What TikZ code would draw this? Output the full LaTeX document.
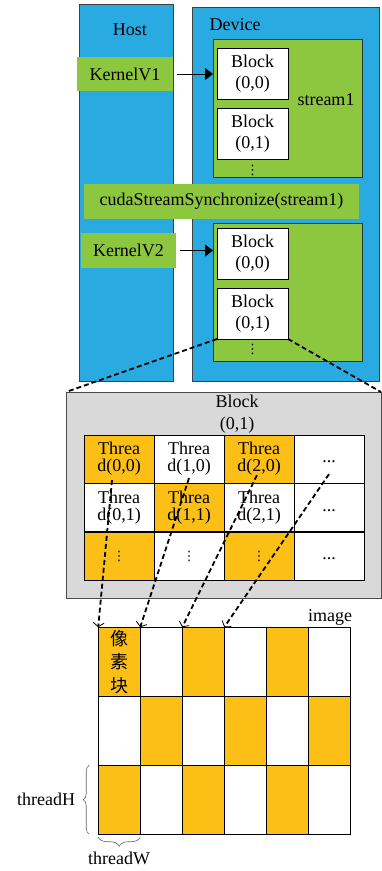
\documentclass[tikz,border=0pt]{standalone}
\usepackage{fontspec}
\setmainfont{Liberation Serif}
\newfontfamily\cjk{Noto Sans CJK SC}
\newfontfamily\symfont{DejaVu Sans}
\usetikzlibrary{arrows.meta,positioning,decorations.pathreplacing}

\definecolor{panelblue}{RGB}{41,171,226}
\definecolor{kgreen}{RGB}{141,198,63}
\definecolor{torange}{RGB}{251,191,22}
\definecolor{bgray}{RGB}{217,217,217}

\newcommand{\vdts}{{\symfont\fontsize{13}{13}\selectfont ⋮}}

\begin{document}
\begin{tikzpicture}
		[x=1pt, y=-1pt, >={Triangle[length=8pt,width=12pt]},
		 every node/.style = {font=\fontsize{18}{21.5}\selectfont, inner sep=0pt, outer sep=0pt},
		 panel/.style  = {draw=black!75, fill=panelblue, line width=0.6pt},
		 sbox/.style   = {draw=black!80, fill=kgreen, line width=0.6pt,
		                  minimum width=149pt, minimum height=138pt},
		 kbox/.style   = {fill=kgreen, align=center},
		 blk/.style    = {draw, fill=white, line width=0.6pt, align=center,
		                  minimum width=71pt, minimum height=51pt},
		 thr/.style    = {draw, line width=0.6pt, align=center,
		                  font=\fontsize{18}{17}\selectfont,
		                  minimum width=70pt, minimum height=48.3pt},
		 pix/.style    = {draw, line width=0.6pt, minimum width=42pt, minimum height=69pt},
		 zoomline/.style = {line width=1.8pt, dash pattern=on 5pt off 3pt},
		 darrow/.style = {line width=1.8pt, dash pattern=on 5pt off 3pt,
		                  -{Straight Barb[length=4pt,width=11pt,line width=0.8pt]}},
		 tbrace/.style = {draw=black!60, line width=0.6pt, decorate},
		]

	\useasboundingbox (0,0) rectangle (382,871);

	\node [panel, minimum width=94pt, minimum height=377pt]  (host)    at (126,192.5) {};
	\node [panel, minimum width=187pt, minimum height=374pt] (device)  at (285.5,194) {};
	\node                                                    (hostlbl) at (130,30) {Host};
	\node                                                    (devlbl)  at (235,25) {Device};

	\node [sbox]                    (stream1) at (287.5,108) {};
	\node [blk]                     (b1a)     at (252.5,73.5) {Block\\(0,0)};
	\node [blk, below=9pt of b1a]   (b1b)     {Block\\(0,1)};
	\node [below=6pt of b1b]        (dots1)   {\vdts};
	\node                           (s1lbl)   at (326,100) {stream1};

	\node [sbox]                    (stream2) at (287.5,292) {};
	\node [blk]                     (b2a)     at (252.5,253.5) {Block\\(0,0)};
	\node [blk, below=9pt of b2a]   (b2b)     {Block\\(0,1)};
	\node [below=5pt of b2b]        (dots2)   {\vdts};

	\node [kbox, minimum width=96pt, minimum height=34pt]  (k1)   at (125,74) {KernelV1};
	\node [kbox, minimum width=275pt, minimum height=35pt] (sync) at (221.5,201.5) {cudaStreamSynchronize(stream1)};
	\node [kbox, minimum width=95pt, minimum height=35pt]  (k2)   at (128.5,250.5) {KernelV2};

	\draw[->, line width=1pt] ([xshift=4pt]k1.east) -- (stream1.west |- k1.east);
	\draw[->, line width=1pt] ([xshift=4pt]k2.east) -- (stream2.west |- k2.east);

	\node [draw=black!70, fill=bgray, line width=0.6pt,
	       minimum width=315pt, minimum height=206pt] (blockbox) at (223.5,495) {};
	\node [align=center] (blocklbl) at (237,414) {Block\\(0,1)};

	\node [thr, fill=torange] (t00) at (119,459)   {Threa\\d(0,0)};
	\node [thr, fill=white]   (t10) at (189,459)   {Threa\\d(1,0)};
	\node [thr, fill=torange] (t20) at (259,459)   {Threa\\d(2,0)};
	\node [thr, fill=white]   (t30) at (329,459)   {\vphantom{Tg}...};
	\node [thr, fill=white]   (t01) at (119,507.5) {Threa\\d(0,1)};
	\node [thr, fill=torange] (t11) at (189,507.5) {Threa\\d(1,1)};
	\node [thr, fill=white]   (t21) at (259,507.5) {Threa\\d(2,1)};
	\node [thr, fill=white]   (t31) at (329,507.5) {\vphantom{Tg}...};
	\node [thr, fill=torange] (t02) at (119,556)   {\vdts};
	\node [thr, fill=white]   (t12) at (189,556)   {\vdts};
	\node [thr, fill=torange] (t22) at (259,556)   {\vdts};
	\node [thr, fill=white]   (t32) at (329,556)   {\vphantom{Tg}...};

	\foreach \c in {0,...,5}{
		\foreach \r in {0,1,2}{
			\pgfmathtruncatemacro{\parity}{mod(\c+\r,2)}
			\ifnum\parity=0 \def\pixfill{torange}\else\def\pixfill{white}\fi
			\node [pix, fill=\pixfill] (p\c\r) at (119.2+42*\c, 661.7+69*\r) {};
		}
	}
	\node [font=\cjk\fontsize{18}{23.5}\selectfont, align=center] (pxtxt) at (p00) {像\\素\\块};
	\node [anchor=base] (imglbl) at (330,621) {image};

	\draw[zoomline] (b2b.south west) -- (blockbox.north west);
	\draw[zoomline] (b2b.south east) -- (blockbox.north east);

	\draw[darrow] ([xshift=-7pt,yshift=3pt]t00.south) -- (p00.north west);
	\draw[darrow] ([yshift=5pt]t10.south)             -- (p10.north west);
	\draw[darrow] ([xshift=-2pt,yshift=8pt]t20.south) -- (p20.north west);
	\draw[darrow] ([yshift=9pt]t30.south)             -- (p30.north west);

	\draw[tbrace, decoration={brace, amplitude=6pt}]
		([xshift=-9pt]p02.south west) -- ([xshift=-9pt]p02.north west)
		node[midway, left=14pt] (thH) {threadH};
	\draw[tbrace, decoration={brace, amplitude=9pt}]
		([yshift=-3pt]p02.south east) -- ([yshift=-3pt]p02.south west)
		node[midway, below=15pt] (thW) {threadW};

\end{tikzpicture}
\end{document}
